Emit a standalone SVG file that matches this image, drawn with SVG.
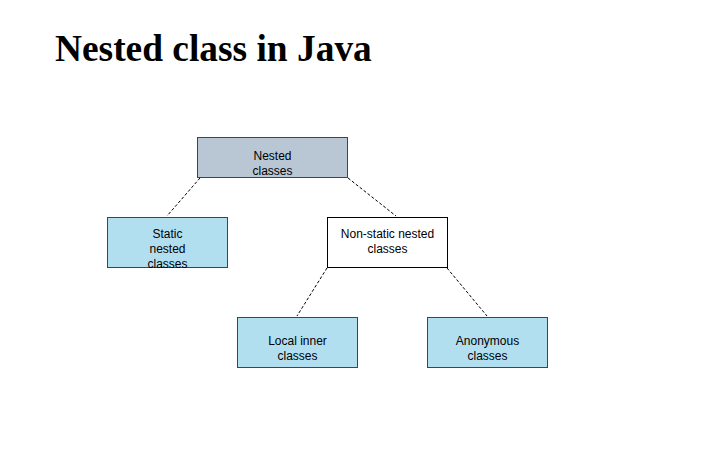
<svg xmlns="http://www.w3.org/2000/svg" width="718" height="456" viewBox="0 0 718 456">
<style>
.box{stroke:#1f4e6e;stroke-width:1}
.blue{fill:#b1dff0}
.t{font-family:"Liberation Sans",Arial,sans-serif;font-size:12px;fill:#000;text-anchor:middle}
.c{stroke:#000;stroke-width:1;stroke-dasharray:3,2;fill:none}
</style>
<rect width="718" height="456" fill="#fff"/>
<text x="55" y="61" font-family="Liberation Serif,Times New Roman,serif" font-size="37.4" font-weight="bold">Nested class in Java</text>
<g id="connectors">
<line class="c" x1="200" y1="178" x2="167" y2="216"/>
<line class="c" x1="348" y1="178" x2="396" y2="216"/>
<line class="c" x1="327" y1="268" x2="297" y2="316"/>
<line class="c" x1="447" y1="268" x2="487" y2="316"/>
</g>
<g id="nested">
<rect class="box" x="197.5" y="137.5" width="150" height="40" fill="#b8c7d3" stroke="#333"/>
<text class="t" x="272.5" y="160">Nested</text>
<text class="t" x="272.5" y="175">classes</text>
</g>
<g id="static">
<rect class="box blue" x="107.5" y="217.5" width="120" height="50"/>
<text class="t" x="167.5" y="238">Static</text>
<text class="t" x="167.5" y="253">nested</text>
<text class="t" x="167.5" y="268">classes</text>
</g>
<g id="nonstatic">
<rect x="327.5" y="217.5" width="120" height="50" fill="#fff" stroke="#000"/>
<text class="t" x="387.5" y="238">Non-static nested</text>
<text class="t" x="387.5" y="253">classes</text>
</g>
<g id="local">
<rect class="box blue" x="237.5" y="317.5" width="120" height="50"/>
<text class="t" x="297.5" y="345">Local inner</text>
<text class="t" x="297.5" y="360">classes</text>
</g>
<g id="anonymous">
<rect class="box blue" x="427.5" y="317.5" width="120" height="50"/>
<text class="t" x="487.5" y="345">Anonymous</text>
<text class="t" x="487.5" y="360">classes</text>
</g>
</svg>
